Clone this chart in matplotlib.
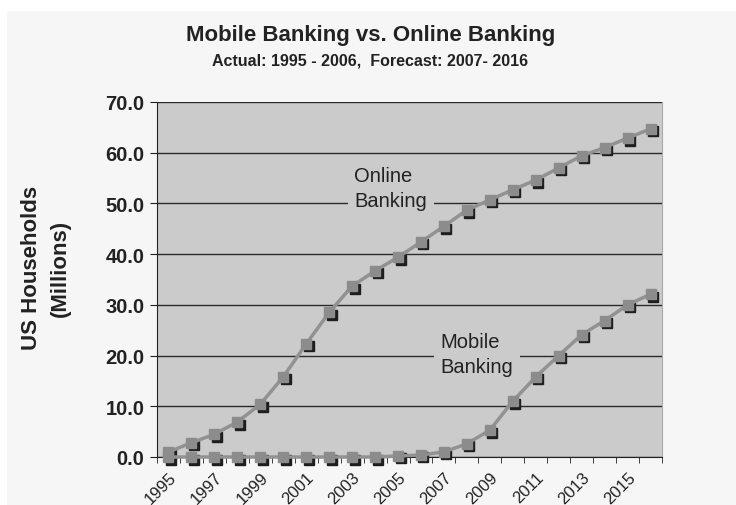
import numpy as np
import matplotlib
matplotlib.use('Agg')
import matplotlib.pyplot as plt
import matplotlib.transforms as mtransforms
from matplotlib.patches import Rectangle

plt.rcParams['font.family'] = ['Liberation Sans', 'DejaVu Sans']

years = list(range(1995, 2017))
online = [1.0, 2.8, 4.5, 6.9, 10.4, 15.8, 22.3, 28.5, 33.7, 36.7, 39.4,
          42.4, 45.5, 48.7, 50.7, 52.7, 54.6, 57.0, 59.4, 61.0, 62.9, 64.7]
mobile = [0.0, 0.0, 0.0, 0.0, 0.0, 0.0, 0.0, 0.0, 0.0, 0.0, 0.2,
          0.4, 1.0, 2.6, 5.3, 11.0, 15.8, 20.0, 24.1, 26.9, 30.0, 32.1]
yticks = [0, 10, 20, 30, 40, 50, 60, 70]

fig = plt.figure(figsize=(7.36, 5.06), dpi=100)
fig.patch.set_facecolor('white')
fig.patches.append(Rectangle((7 / 736, 0), 1 - 7 / 736, 1 - 12 / 506,
                             transform=fig.transFigure, facecolor='#f6f6f6',
                             edgecolor='none', zorder=-10))

ax = fig.add_axes([157 / 736, 48 / 506, 505 / 736, 355 / 506])
ax.set_facecolor('#cbcbcb')

shadow = mtransforms.offset_copy(ax.transData, fig=fig, x=1.8, y=-1.8, units='points')
for s in (online, mobile):
    ax.plot(years, s, ls='none', marker='s', ms=7, color='#1e1e1e',
            transform=shadow, zorder=3, clip_on=False)
    ax.plot(years, s, color='#929292', lw=2.5, marker='s', ms=7,
            mfc='#8c8c8c', mec='#8c8c8c', zorder=4, clip_on=False)

ax.set_xlim(1994.5, 2016.5)
ax.set_ylim(0, 70)
ax.set_yticks(yticks)
ax.set_yticklabels(['%.1f' % v for v in yticks], fontsize=14.5, fontweight='bold',
                   color='#222222')
ax.yaxis.grid(True, color='#2a2a2a', lw=1)
ax.set_axisbelow(True)

ax.set_xticks(years[::2])
ax.set_xticklabels([str(y) for y in years[::2]], rotation=45, ha='right',
                   rotation_mode='anchor', fontsize=12, color='#222222')
ax.set_xticks(np.arange(1994.5, 2017, 1), minor=True)
ax.tick_params(axis='x', which='major', length=0, pad=9)
ax.tick_params(axis='x', which='minor', length=4, color='#222222')
ax.tick_params(axis='y', length=5, color='#222222', pad=4)

for side in ('left', 'bottom'):
    ax.spines[side].set_color('#222222')
ax.spines['top'].set_visible(False)
ax.spines['right'].set_color('#aaaaaa')

ax.set_ylabel('US Households\n(Millions)', fontsize=16, fontweight='bold',
              linespacing=1.5, color='#222222')
ax.yaxis.set_label_coords(-0.17, 0.535)

# series labels, left aligned, masking the gridline behind them
ax.text(2003.1, 53.0, 'Online\nBanking', fontsize=14.5, ha='left', va='center',
        color='#222222', linespacing=1.4,
        bbox=dict(facecolor='#cbcbcb', edgecolor='none', pad=5))
ax.text(2006.85, 20.3, 'Mobile\nBanking', fontsize=14.5, ha='left', va='center',
        color='#222222', linespacing=1.4,
        bbox=dict(facecolor='#cbcbcb', edgecolor='none', pad=5))

fig.text(0.503, 0.930, 'Mobile Banking vs. Online Banking', ha='center', va='center',
         fontsize=16, fontweight='bold', color='#222222')
fig.text(0.503, 0.880, 'Actual: 1995 - 2006,  Forecast: 2007- 2016', ha='center',
         va='center', fontsize=11.5, fontweight='bold', color='#222222')

fig.savefig('out.png', dpi=100, facecolor=fig.get_facecolor())
